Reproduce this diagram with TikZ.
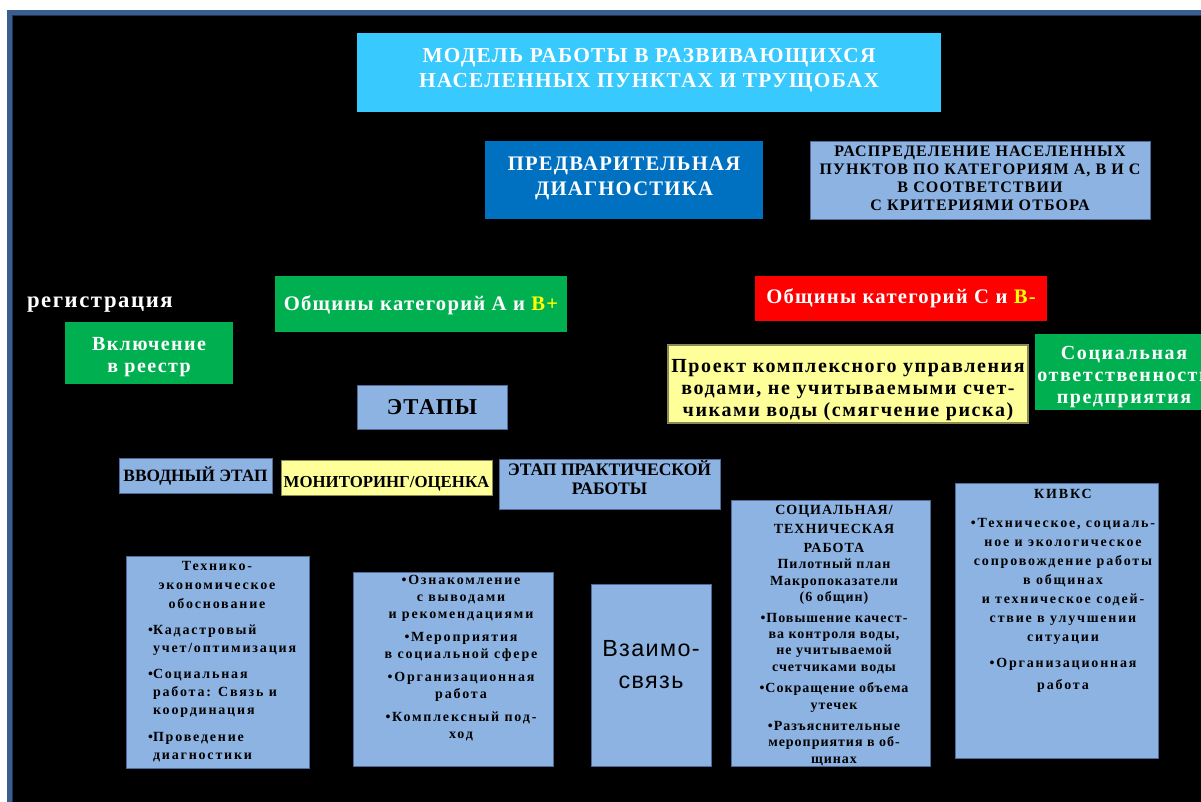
\documentclass[tikz,border=0pt]{standalone}
\usepackage{fontspec}
\setmainfont{Liberation Serif}
\newfontfamily\spA[LetterSpace=6]{Liberation Serif}
\newfontfamily\spS[LetterSpace=13]{Liberation Serif}
\newfontfamily\spF[LetterSpace=8]{Liberation Serif}
\newfontfamily\spG[LetterSpace=7]{Liberation Serif}
\newfontfamily\sansw[LetterSpace=6]{Liberation Sans}
\usetikzlibrary{fit}
\definecolor{framecol}{HTML}{3A5F8E}
\definecolor{framedark}{HTML}{1E3350}
\definecolor{cyanbox}{HTML}{38CAFF}
\definecolor{darkblue}{HTML}{0070C0}
\definecolor{lightblue}{HTML}{8DB3E2}
\definecolor{lbline}{HTML}{4F6C99}
\definecolor{grn}{HTML}{00B050}
\definecolor{redbox}{HTML}{FF0000}
\definecolor{ylw}{HTML}{FFFF99}
\definecolor{ylwline}{HTML}{8A8A55}
\definecolor{ytext}{HTML}{FFFF00}
\tikzset{
  bx/.style={inner sep=0pt, outer sep=0pt},
  lb/.style={bx, fill=lightblue, draw=lbline, line width=0.6pt},
  gb/.style={bx, fill=grn},
  txt/.style={inner sep=0pt, outer sep=0pt, align=center},
}
\begin{document}
\begin{tikzpicture}[x=0.75pt,y=-0.75pt]
\useasboundingbox (0,0) rectangle (1201,801);
\clip (0,0) rectangle (1201,801);
\fill[white] (0,0) rectangle (1201,801);
\fill[framecol] (7,10) rectangle (1230,830);
\fill[framedark] (12,15) rectangle (1230,830);
\fill[black] (13,16) rectangle (1230,830);

% title
\node[bx, fill=cyanbox, fit={(357,33) (941,112)}] (title) {};
\node[txt, text=white, font={\fontsize{16}{18.75}\selectfont\spA\bfseries}] (titlet) at ([yshift=1.5pt]title.center)
  {МОДЕЛЬ РАБОТЫ В РАЗВИВАЮЩИХСЯ\\НАСЕЛЕННЫХ ПУНКТАХ И ТРУЩОБАХ};

% diagnostics
\node[bx, fill=darkblue, fit={(485,141) (763,219)}] (diag) {};
\node[txt, text=white, font={\fontsize{15.5}{18.75}\selectfont\spA\bfseries}] (diagt) at ([yshift=1.5pt]diag.center)
  {ПРЕДВАРИТЕЛЬНАЯ\\ДИАГНОСТИКА};

\node[lb, fit={(810,141) (1150,219)}] (distr) {};
\node[txt, font={\fontsize{12}{13.5}\selectfont\spG\bfseries}] (distrt) at ([yshift=1pt]distr.center)
  {РАСПРЕДЕЛЕНИЕ НАСЕЛЕННЫХ\\ПУНКТОВ ПО КАТЕГОРИЯМ А, В И С\\В СООТВЕТСТВИИ\\С КРИТЕРИЯМИ ОТБОРА};

% registration
\node[txt, text=white, anchor=west, font={\fontsize{17}{20}\selectfont\spG\bfseries}] (reg) at (27,305)
  {регистрация};
\node[gb, fit={(65,322) (233,384)}] (incl) {};
\node[txt, text=white, font={\fontsize{15}{16.5}\selectfont\spG\bfseries}] (inclt) at ([yshift=-3pt]incl.center)
  {Включение\\в реестр};

% communities
\node[gb, fit={(275,276) (567,332)}] (catA) {};
\node[txt, text=white, font={\fontsize{15.5}{18}\selectfont\spA\bfseries}] (catAt) at ([yshift=-1pt]catA.center)
  {Общины категорий А и \textcolor{ytext}{В+}};
\node[bx, fill=redbox, fit={(755,276) (1047,321)}] (catC) {};
\node[txt, text=white, font={\fontsize{15.5}{18}\selectfont\spA\bfseries}] (catCt) at (catC.center)
  {Общины категорий С и \textcolor{ytext}{В-}};

\node[bx, fill=ylw, draw=ylwline, line width=0.8pt, fit={(668,345) (1028,423)}] (proj) {};
\node[txt, font={\fontsize{15}{16.2}\selectfont\spF\bfseries}] (projt) at ([yshift=-4.5pt]proj.center)
  {Проект комплексного управления\\водами, не учитываемыми счет-\\чиками воды (смягчение риска)};

\node[gb, fit={(1035,334) (1215,410)}] (csr) {};
\node[txt, text=white, font={\fontsize{15}{16.2}\selectfont\spF\bfseries}] (csrt) at (1124,377)
  {Социальная\\ответственности\\предприятия};

% stages
\node[lb, fit={(357,385) (507,429)}] (stages) {};
\node[txt, font={\fontsize{17}{20}\selectfont\spA\bfseries}] (stagest) at (stages.center) {ЭТАПЫ};

\node[lb, fit={(119,458) (272,493)}] (intro) {};
\node[txt, font={\fontsize{13}{14}\selectfont\bfseries}] (introt) at (intro.center) {ВВОДНЫЙ ЭТАП};
\node[bx, fill=ylw, draw=ylwline, line width=0.4pt, fit={(281,460) (492,495)}] (monit) {};
\node[txt, font={\fontsize{12.6}{14}\selectfont\bfseries}] (monitt) at ([yshift=-5pt]monit.center) {МОНИТОРИНГ/ОЦЕНКА};
\node[lb, fit={(499,459) (720,509)}] (pract) {};
\node[txt, font={\fontsize{13.2}{14.25}\selectfont\bfseries}] (practt) at ([yshift=5pt]pract.center)
  {ЭТАП ПРАКТИЧЕСКОЙ\\РАБОТЫ};

% box 1
\node[lb, fit={(126,556) (309,768)}] (b1) {};
\node[txt, anchor=north, font={\fontsize{10.5}{14.25}\selectfont\spS\bfseries}] (b1h) at (217,561)
  {Технико-\\экономическое\\обоснование};
\node[txt, anchor=north west, align=left, font={\fontsize{10.5}{13.5}\selectfont\spS\bfseries}] (b1t) at (153,625)
  {\llap{•}Кадастровый\\учет/оптимизация\\[6pt]
   \llap{•}Социальная\\работа: Связь и\\координация\\[6.5pt]
   \llap{•}Проведение\\диагностики};

% box 2
\node[lb, fit={(353,572) (553,766)}] (b2) {};
\node[txt, anchor=north, font={\fontsize{10.5}{12.75}\selectfont\spS\bfseries}] (b2t) at (461,575)
  {•Ознакомление\\с выводами\\и рекомендациями\\[4.5pt]
   •Мероприятия\\в социальной сфере\\[4.5pt]
   •Организационная\\работа\\[4.5pt]
   •Комплексный под-\\ход};

% box 3
\node[lb, fit={(591,584) (711,766)}] (b3) {};
\node[txt, font={\fontsize{17.5}{24}\selectfont\sansw}] (b3t) at ([yshift=7.5pt]b3.center)
  {Взаимо-\\связь};

% box 4
\node[lb, fit={(731,500) (930,766)}] (b4) {};
\node[txt, anchor=north, font={\fontsize{10.5}{12.3}\selectfont\spG\bfseries}] (b4t) at (834,505)
  {СОЦИАЛЬНАЯ/\\[2pt]ТЕХНИЧЕСКАЯ\\[2pt]РАБОТА\\
   Пилотный план\\Макропоказатели\\(6 общин)\\[3pt]
   •Повышение качест-\\ва контроля воды,\\не учитываемой\\счетчиками воды\\[4pt]
   •Сокращение объема\\утечек\\[3.5pt]
   •Разъяснительные\\мероприятия в об-\\щинах};

% box 5
\node[lb, fit={(955,483) (1158,758)}] (b5) {};
\node[txt, anchor=north, font={\fontsize{10.5}{14.25}\selectfont\spS\bfseries}] (b5t) at (1063,489)
  {КИВКС\\[8pt]
   •Техническое, социаль-\\ное и экологическое\\сопровождение работы\\в общинах\\и техническое содей-\\ствие в улучшении\\ситуации\\[5pt]
   •Организационная\\[2pt]работа};
\end{tikzpicture}
\end{document}
